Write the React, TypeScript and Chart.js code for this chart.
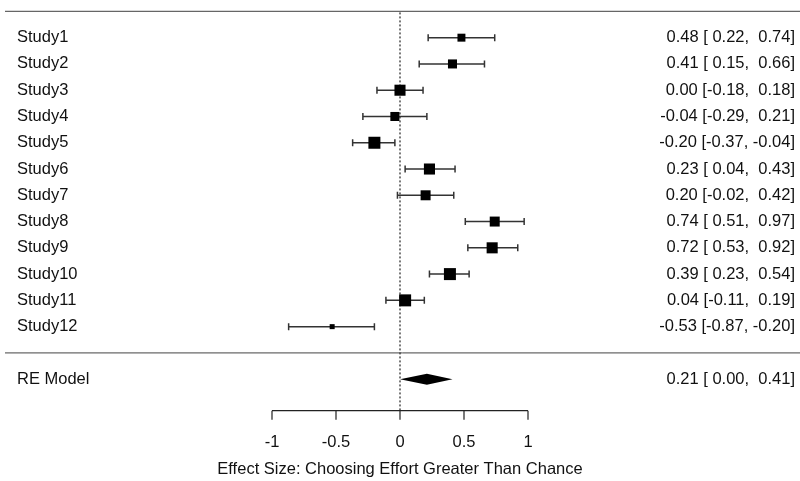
import React, { useEffect, useRef } from "react";
import { Chart, registerables } from "chart.js";

Chart.register(...registerables);

const studies = ["Study1", "Study2", "Study3", "Study4", "Study5", "Study6", "Study7", "Study8", "Study9", "Study10", "Study11", "Study12"];
const estimates = [0.48, 0.41, 0.0, -0.04, -0.2, 0.23, 0.2, 0.74, 0.72, 0.39, 0.04, -0.53];
const lower = [0.22, 0.15, -0.18, -0.29, -0.37, 0.04, -0.02, 0.51, 0.53, 0.23, -0.11, -0.87];
const upper = [0.74, 0.66, 0.18, 0.21, -0.04, 0.43, 0.42, 0.97, 0.92, 0.54, 0.19, -0.2];
const weights = [6.9, 7.6, 8.9, 7.6, 9.5, 8.9, 8.2, 8.2, 8.9, 9.5, 9.5, 5.0];
const modelLabel = "RE Model";
const modelEstimate = 0.21;
const modelLower = 0.0;
const modelUpper = 0.41;
const xTicks = [-1, -0.5, 0, 0.5, 1];
const xTickLabels = ["-1", "-0.5", "0", "0.5", "1"];
const xTitle = "Effect Size: Choosing Effort Greater Than Chance";

const k = studies.length;
const rows = studies.map((_, i) => k - i);
const modelRow = -1;
const sepRow = 0;
const topRow = k + 1;
const axisRow = -2.2;

const FONT = "16.5px 'Liberation Sans', Arial, sans-serif";

function fmt(v: number) {
  const s = v.toFixed(2);
  return s === "-0.00" ? "0.00" : s;
}
function padv(v: number) {
  const s = fmt(v);
  return s.startsWith("-") ? s : " " + s;
}
function annot(e: number, lo: number, hi: number) {
  return `${fmt(e)} [${padv(lo)}, ${padv(hi)}]`;
}

const wMin = Math.min(...weights);
const wMax = Math.max(...weights);
function sideFor(w: number) {
  return 5 + ((w - wMin) / (wMax - wMin)) * 7;
}

const forestPlugin = {
  id: "forest",
  beforeDatasetsDraw(chart: any) {
    const ctx = chart.ctx as CanvasRenderingContext2D;
    const xs = chart.scales.x;
    const ys = chart.scales.y;
    const W = chart.width;
    ctx.save();
    // top line
    ctx.strokeStyle = "#666";
    ctx.lineWidth = 1.3;
    ctx.beginPath();
    const yTop = ys.getPixelForValue(topRow);
    ctx.moveTo(5, yTop);
    ctx.lineTo(W, yTop);
    ctx.stroke();
    // separator
    const ySep = ys.getPixelForValue(sepRow);
    ctx.strokeStyle = "#444";
    ctx.lineWidth = 1;
    ctx.beginPath();
    ctx.moveTo(5, ySep);
    ctx.lineTo(W, ySep);
    ctx.stroke();
    // dotted vertical line at 0
    const x0 = xs.getPixelForValue(0);
    const yAxis = ys.getPixelForValue(axisRow);
    ctx.strokeStyle = "#222";
    ctx.lineWidth = 1.2;
    ctx.setLineDash([2, 2]);
    ctx.beginPath();
    ctx.moveTo(x0, yTop + 1);
    ctx.lineTo(x0, yAxis);
    ctx.stroke();
    ctx.setLineDash([]);
    // error bars
    ctx.strokeStyle = "#333";
    ctx.lineWidth = 1.5;
    for (let i = 0; i < k; i++) {
      const y = ys.getPixelForValue(rows[i]);
      const xl = xs.getPixelForValue(lower[i]);
      const xh = xs.getPixelForValue(upper[i]);
      ctx.beginPath();
      ctx.moveTo(xl, y);
      ctx.lineTo(xh, y);
      ctx.moveTo(xl, y - 3.5);
      ctx.lineTo(xl, y + 3.5);
      ctx.moveTo(xh, y - 3.5);
      ctx.lineTo(xh, y + 3.5);
      ctx.stroke();
    }
    // diamond
    const yM = ys.getPixelForValue(modelRow);
    ctx.fillStyle = "#000";
    ctx.beginPath();
    ctx.moveTo(xs.getPixelForValue(modelLower), yM);
    ctx.lineTo(xs.getPixelForValue(modelEstimate), yM - 5.5);
    ctx.lineTo(xs.getPixelForValue(modelUpper), yM);
    ctx.lineTo(xs.getPixelForValue(modelEstimate), yM + 5.5);
    ctx.closePath();
    ctx.fill();
    // axis
    ctx.strokeStyle = "#222";
    ctx.lineWidth = 1.2;
    ctx.beginPath();
    const xa = xs.getPixelForValue(xTicks[0]);
    const xb = xs.getPixelForValue(xTicks[xTicks.length - 1]);
    ctx.moveTo(xa, yAxis);
    ctx.lineTo(xb, yAxis);
    for (const t of xTicks) {
      const xp = xs.getPixelForValue(t);
      ctx.moveTo(xp, yAxis);
      ctx.lineTo(xp, yAxis + 9);
    }
    ctx.stroke();
    // texts
    ctx.fillStyle = "#111";
    ctx.font = FONT;
    ctx.textBaseline = "middle";
    ctx.textAlign = "center";
    xTicks.forEach((t, i) => {
      ctx.fillText(xTickLabels[i], xs.getPixelForValue(t), yAxis + 32);
    });
    ctx.fillText(xTitle, xs.getPixelForValue(0), yAxis + 59);
    ctx.textAlign = "left";
    for (let i = 0; i < k; i++) {
      ctx.fillText(studies[i], 17, ys.getPixelForValue(rows[i]));
    }
    ctx.fillText(modelLabel, 17, yM);
    ctx.textAlign = "right";
    for (let i = 0; i < k; i++) {
      ctx.fillText(annot(estimates[i], lower[i], upper[i]), 795, ys.getPixelForValue(rows[i]));
    }
    ctx.fillText(annot(modelEstimate, modelLower, modelUpper), 795, yM);
    ctx.restore();
  },
};

export default function App() {
  const ref = useRef<HTMLCanvasElement>(null);
  useEffect(() => {
    document.body.style.margin = "0";
    const chart = new Chart(ref.current!, {
      type: "scatter",
      data: {
        datasets: [
          {
            data: estimates.map((e, i) => ({ x: e, y: rows[i] })),
            pointStyle: "rect",
            pointRadius: weights.map((w) => sideFor(w) / (2 * Math.SQRT1_2)),
            pointHoverRadius: weights.map((w) => sideFor(w) / (2 * Math.SQRT1_2)),
            backgroundColor: "#000",
            borderColor: "#000",
            borderWidth: 0,
          },
        ],
      },
      options: {
        responsive: false,
        animation: false,
        layout: { padding: 0, autoPadding: false },
        plugins: { legend: { display: false }, tooltip: { enabled: false } },
        scales: {
          x: { type: "linear", min: -3.125, max: 3.125, display: false },
          y: { type: "linear", min: -4.876, max: 13.434, display: false },
        },
      },
      plugins: [forestPlugin],
    });
    return () => chart.destroy();
  }, []);
  return <canvas ref={ref} width={800} height={481} style={{ display: "block" }} />;
}
